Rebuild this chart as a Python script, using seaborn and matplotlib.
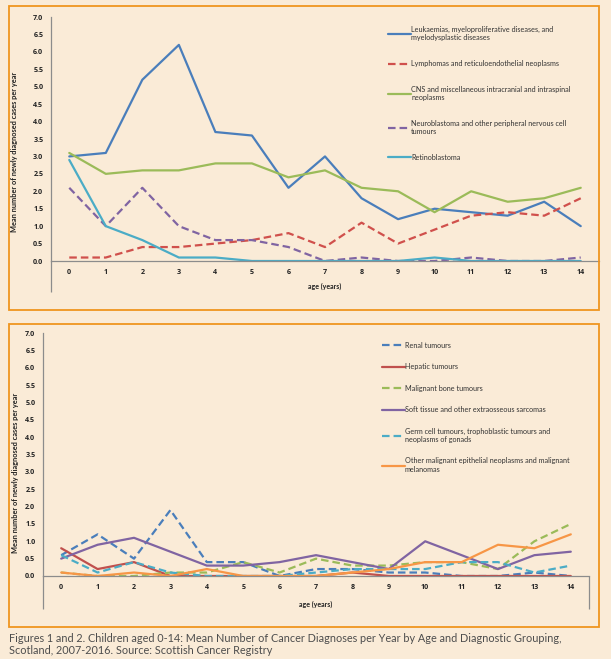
import numpy as np
import pandas as pd
import matplotlib
matplotlib.use("Agg")
import matplotlib.pyplot as plt
from matplotlib.patches import Rectangle
import seaborn as sns

# edats 0-14
ages = list(range(15))

# figura 1
top_groups = [
    "Leukaemias, myeloproliferative diseases, and\nmyelodysplastic diseases",
    "Lymphomas and reticuloendothelial neoplasms",
    "CNS and miscellaneous intracranial and intraspinal\nneoplasms",
    "Neuroblastoma and other peripheral nervous cell\ntumours",
    "Retinoblastoma",
]
leukaemias = [3.0, 3.1, 5.2, 6.2, 3.7, 3.6, 2.1, 3.0, 1.8, 1.2, 1.5, 1.4, 1.3, 1.7, 1.0]
lymphomas = [0.1, 0.1, 0.4, 0.4, 0.5, 0.6, 0.8, 0.4, 1.1, 0.5, 0.9, 1.3, 1.4, 1.3, 1.8]
cns = [3.1, 2.5, 2.6, 2.6, 2.8, 2.8, 2.4, 2.6, 2.1, 2.0, 1.4, 2.0, 1.7, 1.8, 2.1]
neuroblastoma = [2.1, 1.0, 2.1, 1.0, 0.6, 0.6, 0.4, 0.0, 0.1, 0.0, 0.0, 0.1, 0.0, 0.0, 0.1]
retinoblastoma = [2.9, 1.0, 0.6, 0.1, 0.1, 0.0, 0.0, 0.0, 0.0, 0.0, 0.1, 0.0, 0.0, 0.0, 0.0]
top_values = [leukaemias, lymphomas, cns, neuroblastoma, retinoblastoma]
top_colors = ["#4A7EBB", "#D0504C", "#9BBB59", "#8064A2", "#4BACC6"]
top_dashed = [False, True, False, True, False]

# figura 2
bottom_groups = [
    "Renal tumours",
    "Hepatic tumours",
    "Malignant bone tumours",
    "Soft tissue and other extraosseous sarcomas",
    "Germ cell tumours, trophoblastic tumours and\nneoplasms of gonads",
    "Other malignant epithelial neoplasms and malignant\nmelanomas",
]
renal = [0.6, 1.2, 0.5, 1.9, 0.4, 0.4, 0.0, 0.2, 0.2, 0.1, 0.1, 0.0, 0.0, 0.1, 0.0]
hepatic = [0.8, 0.2, 0.4, 0.0, 0.0, 0.0, 0.0, 0.0, 0.1, 0.0, 0.0, 0.0, 0.0, 0.0, 0.0]
bone = [0.1, 0.0, 0.0, 0.1, 0.1, 0.4, 0.1, 0.5, 0.3, 0.3, 0.4, 0.4, 0.2, 1.0, 1.5]
soft_tissue = [0.5, 0.9, 1.1, 0.7, 0.3, 0.3, 0.4, 0.6, 0.4, 0.2, 1.0, 0.6, 0.2, 0.6, 0.7]
germ_cell = [0.6, 0.1, 0.4, 0.1, 0.0, 0.0, 0.0, 0.1, 0.2, 0.2, 0.2, 0.4, 0.4, 0.1, 0.3]
other_epithelial = [0.1, 0.0, 0.1, 0.0, 0.2, 0.0, 0.0, 0.0, 0.1, 0.2, 0.4, 0.4, 0.9, 0.8, 1.2]
bottom_values = [renal, hepatic, bone, soft_tissue, germ_cell, other_epithelial]
bottom_colors = ["#4A7EBB", "#C0504D", "#9BBB59", "#8064A2", "#4BACC6", "#F79646"]
bottom_dashed = [True, False, True, False, True, False]

yticks = [0.0, 0.5, 1.0, 1.5, 2.0, 2.5, 3.0, 3.5, 4.0, 4.5, 5.0, 5.5, 6.0, 6.5, 7.0]
caption = ("Figures 1 and 2. Children aged 0-14: Mean Number of Cancer Diagnoses per Year by Age and Diagnostic Grouping,\n"
           "Scotland, 2007-2016. Source: Scottish Cancer Registry")

BG = "#FAEBD7"
BORDER = "#F0951E"
AXC = "#8C8C8C"
W, H = 611, 659

sns.set_style("white")
plt.rcParams["font.family"] = ["Lato", "DejaVu Sans"]


def to_long(groups, values):
    rows = []
    for g, vals in zip(groups, values):
        for a, v in zip(ages, vals):
            rows.append({"age": a, "group": g, "value": v})
    return pd.DataFrame(rows)


def box(fig, x0, y0, x1, y1):
    # marc taronja en pixels
    fig.patches.append(Rectangle((x0 / W, 1 - y1 / H), (x1 - x0) / W, (y1 - y0) / H,
                                 transform=fig.transFigure, fill=False,
                                 edgecolor=BORDER, linewidth=1.3))


def draw_panel(fig, rect, groups, values, colors, dashed, legend_anchor, spacing, ext,
               xlabel_y, ylab_x, ylab_pos):
    left, top, right, bottom = rect
    ax = fig.add_axes([left / W, 1 - bottom / H, (right - left) / W, (bottom - top) / H])
    ax.set_facecolor("none")
    df = to_long(groups, values)
    pal = dict(zip(groups, colors))
    dash = {g: ((3.4, 1.8) if d else "") for g, d in zip(groups, dashed)}
    sns.lineplot(data=df, x="age", y="value", hue="group", style="group",
                 palette=pal, dashes=dash, hue_order=groups, style_order=groups,
                 linewidth=1.6, ax=ax)
    ax.set_xlim(-0.5, 14.5)
    ax.set_ylim(0, 7)
    ax.set_yticks(yticks)
    ax.set_yticklabels([f"{t:.1f}" for t in yticks])
    ax.set_xticks(ages)
    ax.set_xticks(np.arange(-0.5, 15, 1), minor=True)
    ax.tick_params(axis="x", which="major", length=0, pad=6, labelsize=5.1, colors="#222222")
    ax.tick_params(axis="x", which="minor", length=11.5, width=0.9, color=AXC, direction="out")
    ax.tick_params(axis="y", length=2.5, width=0.9, color=AXC, labelsize=5.1, pad=3,
                   labelcolor="#222222", direction="out")
    for lbl in ax.get_xticklabels() + ax.get_yticklabels():
        lbl.set_fontweight("bold")
        lbl.set_family("Open Sans")
    for s in ["top", "right"]:
        ax.spines[s].set_visible(False)
    for s in ["left", "bottom"]:
        ax.spines[s].set_color(AXC)
        ax.spines[s].set_linewidth(0.9)
    # linies verticals sota l'eix
    tr = ax.get_xaxis_transform()
    for xe in ext:
        ax.plot([xe, xe], [0, -ext[xe]], transform=tr, color=AXC, lw=0.9,
                clip_on=False, solid_capstyle="butt")
    ax.set_xlabel("")
    ax.set_ylabel("")
    ax.text(7, xlabel_y, "age (years)", transform=tr, ha="center", va="center",
            fontsize=5.0, fontweight="bold", color="#222222")
    # etiqueta de l'eix y en pixels de la figura
    fig.text(ylab_x / W, 1 - ylab_pos / H, "Mean number of newly diagnosed cases per year",
             rotation=90, ha="center", va="center", fontsize=5.3,
             fontweight="bold", color="#222222")
    handles, labels = ax.get_legend_handles_labels()
    ax.legend(handles, labels, loc="upper left", bbox_to_anchor=legend_anchor,
              frameon=False, fontsize=5.2, handlelength=3.2, handletextpad=0.0,
              labelspacing=spacing, borderaxespad=0, labelcolor="#333333")
    return ax


fig = plt.figure(figsize=(W / 100, H / 100), dpi=100, facecolor=BG)

box(fig, 9, 6, 599, 310)
box(fig, 9, 324, 599, 627)

ax1 = draw_panel(fig, (51, 17, 599, 261), top_groups, top_values, top_colors, top_dashed,
                 (0.61, 0.975), 2.6, {-0.5: 0.127}, -0.103, 15, 152)

ax2 = draw_panel(fig, (43, 333, 589, 576), bottom_groups, bottom_values, bottom_colors,
                 bottom_dashed, (0.615, 0.975), 2.0, {-0.5: 0.136, 14.5: 0.136}, -0.115, 16, 473)

fig.text(9 / W, 1 - 633 / H, caption, ha="left", va="top", fontsize=7.85,
         color="#4D4D4D", linespacing=1.1)

fig.savefig("out.png", dpi=100, facecolor=BG)
